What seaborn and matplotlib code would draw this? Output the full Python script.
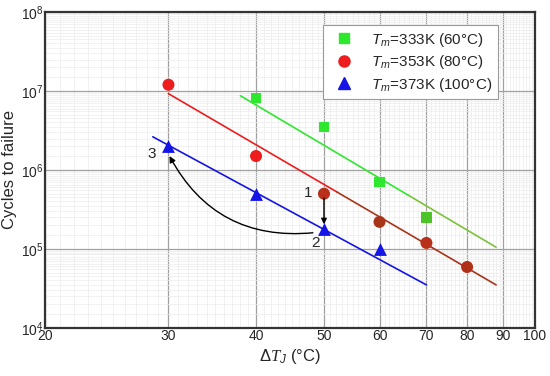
import numpy as np
import pandas as pd
import matplotlib
matplotlib.use("Agg")
import matplotlib.pyplot as plt
import seaborn as sns
from matplotlib.ticker import FixedLocator, LogLocator, NullFormatter, FuncFormatter
from matplotlib.lines import Line2D

# ---------- data ----------
dT_333 = [40, 50, 60, 70]
N_333 = [8.2e6, 3.5e6, 7.0e5, 2.5e5]
dT_353 = [30, 40, 50, 60, 70, 80]
N_353 = [1.2e7, 1.5e6, 5.0e5, 2.2e5, 1.19e5, 5.9e4]
dT_373 = [30, 40, 50, 60]
N_373 = [2.0e6, 5.0e5, 1.8e5, 1.0e5]

# fitted lines, end points
fit_333_x = [38, 88]
fit_333_y = [8.7e6, 1.05e5]
fit_353_x = [30, 88]
fit_353_y = [9.25e6, 3.5e4]
fit_373_x = [28.5, 70]
fit_373_y = [2.63e6, 3.5e4]

labels = [r"$\mathsf{T}_\mathsf{m}$=333K (60°C)", r"$\mathsf{T}_\mathsf{m}$=353K (80°C)",
          r"$\mathsf{T}_\mathsf{m}$=373K (100°C)"]
x_ticks = [20, 30, 40, 50, 60, 70, 80, 90, 100]

GREEN, RED, BLUE = "#2ee82e", "#ee1c1c", "#1414e6"
BROWN, OLIVE = "#a8341a", "#7cc23a"

sns.set_style("white")
plt.rcParams["font.family"] = ["Liberation Sans", "DejaVu Sans"]
plt.rcParams["mathtext.fontset"] = "custom"
plt.rcParams["mathtext.rm"] = "Liberation Sans"
plt.rcParams["mathtext.it"] = "Liberation Serif:italic"
plt.rcParams["mathtext.sf"] = "Liberation Sans:italic"

fig = plt.figure(figsize=(5.5, 3.76), dpi=100)
ax = fig.add_axes([0.0818, 0.128, 0.891, 0.84])
ax.set_xscale("log")
ax.set_yscale("log")
ax.set_xlim(20, 100)
ax.set_ylim(1e4, 1e8)

# grids
ax.xaxis.set_major_locator(FixedLocator(x_ticks))
ax.xaxis.set_major_formatter(FuncFormatter(lambda v, p: f"{v:g}"))
ax.xaxis.set_minor_locator(FixedLocator(np.arange(20, 100.1, 1.0)))
ax.xaxis.set_minor_formatter(NullFormatter())
ax.yaxis.set_major_locator(LogLocator(base=10, numticks=10))
ax.yaxis.set_minor_locator(LogLocator(base=10, subs=np.arange(1.5, 10, 0.5), numticks=20))
ax.yaxis.set_minor_formatter(NullFormatter())
ax.grid(which="minor", color="#ececec", lw=0.5)
ax.grid(which="major", color="#a0a0a0", lw=0.9)
ax.set_axisbelow(True)
ax.tick_params(which="both", length=0, labelsize=10, pad=1)

# fit lines
def seg(x0, y0, x1, y1, xm):
    # value of the power-law line at xm
    b = np.log(y1 / y0) / np.log(x1 / x0)
    return y0 * (xm / x0) ** b

ym = seg(fit_353_x[0], fit_353_y[0], fit_353_x[1], fit_353_y[1], 52.2)
sns.lineplot(x=[fit_353_x[0], 52.2], y=[fit_353_y[0], ym], color=RED, lw=1.2, ax=ax)
sns.lineplot(x=[52.2, fit_353_x[1]], y=[ym, fit_353_y[1]], color=BROWN, lw=1.2, ax=ax)
yg = seg(fit_333_x[0], fit_333_y[0], fit_333_x[1], fit_333_y[1], 66)
sns.lineplot(x=[fit_333_x[0], 66], y=[fit_333_y[0], yg], color=GREEN, lw=1.2, ax=ax)
sns.lineplot(x=[66, fit_333_x[1]], y=[yg, fit_333_y[1]], color=OLIVE, lw=1.2, ax=ax)
sns.lineplot(x=fit_373_x, y=fit_373_y, color=BLUE, lw=1.2, ax=ax)

# points
g_cols = [GREEN, GREEN, GREEN, "#4cc428"]
r_cols = [RED, RED, "#b8301a", BROWN, "#b8301a", "#b03018"]
ax.scatter(dT_333, N_333, marker="s", s=55, c=g_cols, zorder=3, linewidths=0)
ax.scatter(dT_353, N_353, marker="o", s=75, c=r_cols, zorder=3, linewidths=0)
ax.scatter(dT_373, N_373, marker="^", s=85, c=BLUE, zorder=3, linewidths=0)

# annotations
ax.text(47.4, 5.1e5, "1", fontsize=11, ha="center", va="center")
ax.text(48.6, 1.2e5, "2", fontsize=11, ha="center", va="center")
ax.text(28.4, 1.6e6, "3", fontsize=11, ha="center", va="center")
ax.annotate("", xy=(50, 2.05e5), xytext=(50, 4.4e5),
            arrowprops=dict(arrowstyle="-|>", color="black", lw=1.0,
                            mutation_scale=8, shrinkA=0, shrinkB=0))
ax.annotate("", xy=(30.1, 1.5e6), xytext=(48.2, 1.6e5),
            arrowprops=dict(arrowstyle="-|>", color="black", lw=1.0,
                            mutation_scale=9, shrinkA=0, shrinkB=0,
                            connectionstyle="arc3,rad=-0.33"))

for s in ax.spines.values():
    s.set_color("#333333")
    s.set_linewidth(1.6)

ax.set_xlabel(r"$\mathit{Δ}\mathit{T}_\mathsf{J}$ (°C)", fontsize=12, labelpad=3)
ax.set_ylabel("Cycles to failure", fontsize=12)
ax.yaxis.set_label_coords(-0.057, 0.5)

handles = [Line2D([], [], ls="", marker="s", ms=7, color=GREEN),
           Line2D([], [], ls="", marker="o", ms=8, color=RED),
           Line2D([], [], ls="", marker="^", ms=8, color=BLUE)]
leg = ax.legend(handles, labels, loc="upper right", bbox_to_anchor=(0.924, 0.958),
                fontsize=11, fancybox=False, framealpha=1, edgecolor="#999999",
                handletextpad=0.8, labelspacing=0.3, borderpad=0.35,
                borderaxespad=0)
leg.get_frame().set_linewidth(0.8)

fig.savefig("out.png", dpi=100)
